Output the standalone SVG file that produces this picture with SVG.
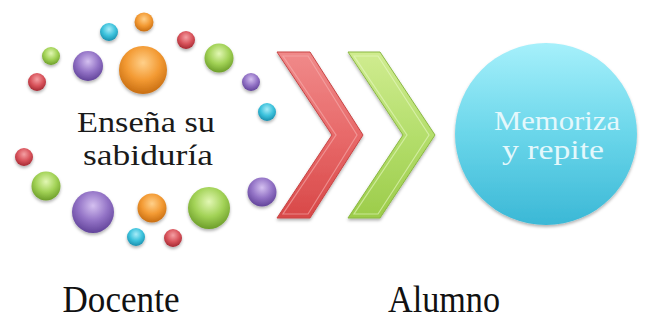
<svg xmlns="http://www.w3.org/2000/svg" width="649" height="322" viewBox="0 0 649 322">
<style>
.t{font-family:"Liberation Serif","Times New Roman",serif;}
.inner{font-size:30px;fill:#1a1a1a;text-anchor:middle;}
.innerw{font-size:27px;fill:#e4f8fc;text-anchor:middle;}
.lbl{font-size:38px;fill:#111;text-anchor:middle;}
</style>
<defs>
<filter id="sh" x="-30%" y="-30%" width="160%" height="170%">
<feGaussianBlur in="SourceAlpha" stdDeviation="1.5"/>
<feOffset dy="2" result="b"/>
<feFlood flood-color="#000" flood-opacity="0.3"/>
<feComposite in2="b" operator="in"/>
<feMerge><feMergeNode/><feMergeNode in="SourceGraphic"/></feMerge>
</filter>
<radialGradient id="gO" cx="0.5" cy="0.35" r="0.65"><stop offset="0" stop-color="#ffd08a"/><stop offset="0.55" stop-color="#f39a33"/><stop offset="1" stop-color="#c86e12"/></radialGradient>
<radialGradient id="gC" cx="0.5" cy="0.35" r="0.65"><stop offset="0" stop-color="#a8ecf8"/><stop offset="0.55" stop-color="#3cc2dc"/><stop offset="1" stop-color="#1a8fae"/></radialGradient>
<radialGradient id="gR" cx="0.5" cy="0.35" r="0.65"><stop offset="0" stop-color="#f4a0a4"/><stop offset="0.55" stop-color="#d9545c"/><stop offset="1" stop-color="#a52a33"/></radialGradient>
<radialGradient id="gG" cx="0.5" cy="0.35" r="0.65"><stop offset="0" stop-color="#e2f7b4"/><stop offset="0.55" stop-color="#a2d256"/><stop offset="1" stop-color="#6d9e2a"/></radialGradient>
<radialGradient id="gP" cx="0.5" cy="0.35" r="0.65"><stop offset="0" stop-color="#d4c0f0"/><stop offset="0.55" stop-color="#9373c6"/><stop offset="1" stop-color="#62449a"/></radialGradient>
<linearGradient id="gBig" x1="0" y1="0" x2="0" y2="1"><stop offset="0" stop-color="#a6f0fb"/><stop offset="0.5" stop-color="#6ad6ea"/><stop offset="1" stop-color="#3bb8d6"/></linearGradient>
<linearGradient id="gRed" x1="0" y1="0" x2="0" y2="1"><stop offset="0" stop-color="#f08a8a"/><stop offset="0.5" stop-color="#e86a6a"/><stop offset="1" stop-color="#d84848"/></linearGradient>
<linearGradient id="gGrn" x1="0" y1="0" x2="0" y2="1"><stop offset="0" stop-color="#d0ec90"/><stop offset="0.5" stop-color="#b4de6c"/><stop offset="1" stop-color="#9ccc4a"/></linearGradient>
</defs>
<g id="docente">
<g filter="url(#sh)">
<circle cx="144" cy="22" r="9.5" fill="url(#gO)"/>
<circle cx="109" cy="32" r="9" fill="url(#gC)"/>
<circle cx="186" cy="40" r="9" fill="url(#gR)"/>
<circle cx="51" cy="56" r="9" fill="url(#gG)"/>
<circle cx="88" cy="66" r="15" fill="url(#gP)"/>
<circle cx="143" cy="70" r="24" fill="url(#gO)"/>
<circle cx="219" cy="58" r="14.5" fill="url(#gG)"/>
<circle cx="37" cy="82" r="9" fill="url(#gR)"/>
<circle cx="251" cy="82" r="9" fill="url(#gP)"/>
<circle cx="267" cy="112" r="9" fill="url(#gC)"/>
<circle cx="24" cy="157" r="9" fill="url(#gR)"/>
<circle cx="46" cy="186" r="14.5" fill="url(#gG)"/>
<circle cx="262" cy="192" r="14.5" fill="url(#gP)"/>
<circle cx="93" cy="212" r="21" fill="url(#gP)"/>
<circle cx="152" cy="208" r="14.5" fill="url(#gO)"/>
<circle cx="209" cy="208" r="21" fill="url(#gG)"/>
<circle cx="136" cy="237" r="9" fill="url(#gC)"/>
<circle cx="173" cy="238" r="9" fill="url(#gR)"/>
</g>
<text class="t inner" x="146" y="132" textLength="138" lengthAdjust="spacingAndGlyphs">Enseña su</text>
<text class="t inner" x="148" y="165" textLength="130" lengthAdjust="spacingAndGlyphs">sabiduría</text>
<text class="t lbl" x="121" y="312" textLength="117" lengthAdjust="spacingAndGlyphs">Docente</text>
</g>
<g id="connectors" filter="url(#sh)">
<path d="M277,52 L310,52 L363,135 L310,218 L277,218 L332,135 Z" fill="url(#gRed)" stroke="#c84444" stroke-width="1"/>
<path d="M283,56 L308,56 L357,135 L308,214 L283,214 L336,135 Z" fill="none" stroke="#f6b0b0" stroke-width="1.2" opacity="0.6"/>
<path d="M348,52 L380,52 L435,135 L380,218 L348,218 L403,135 Z" fill="url(#gGrn)" stroke="#8ab842" stroke-width="1"/>
<path d="M354,56 L378,56 L429,135 L378,214 L354,214 L407,135 Z" fill="none" stroke="#e8f8c4" stroke-width="1.2" opacity="0.6"/>
</g>
<g id="alumno">
<circle cx="546" cy="134" r="91" fill="url(#gBig)" filter="url(#sh)"/>
<text class="t innerw" x="557" y="130" textLength="126" lengthAdjust="spacingAndGlyphs">Memoriza</text>
<text class="t innerw" x="553" y="159" textLength="102" lengthAdjust="spacingAndGlyphs">y repite</text>
<text class="t lbl" x="444" y="312" textLength="112" lengthAdjust="spacingAndGlyphs">Alumno</text>
</g>
</svg>
